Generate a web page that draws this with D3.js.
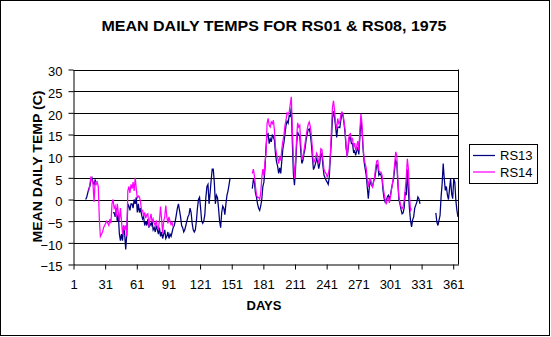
<!DOCTYPE html>
<html><head><meta charset="utf-8">
<script src="https://cdn.jsdelivr.net/npm/d3@7"></script>
<style>body{margin:0;background:#fff} svg{display:block}</style>
</head><body><svg id="c" width="551" height="337"></svg>
<script>
// ---- DATA ----
const chartTitle = "MEAN DAILY TEMPS FOR RS01 & RS08, 1975";
const yTitle = "MEAN DAILY TEMP (C)";
const xTitle = "DAYS";
const seriesNames = ["RS13", "RS14"];
const seriesColors = ["#000080", "#FF00FF"];
const nDays = 365;
const xTickLabels = [1, 31, 61, 91, 121, 151, 181, 211, 241, 271, 301, 331, 361];
const yTickValues = [-15, -10, -5, 0, 5, 10, 15, 20, 25, 30];

// RS13 segments (start day + daily values)
const rs13aStart = 12;
const rs13a = [0, 0.5, 1.5, 2.5, 3, 4.5, 5, 4, 3.5, 4.5, 4];
const rs13bStart = 38;
const rs13b = [
  -3, -3, -4, -2, -5, -3.5, -8, -9.5, -8, -9.5,
  -6, -8, -11.5, -8, -1, -1.5, -2.5, -1, -1, -2,
  0, -1, 0.5, -3, -1, -3, -2, -3.5, -4.5, -4,
  -6, -5, -6, -4.5, -6.5, -5.5, -6, -5, -7, -6.5,
  -7.5, -6, -7, -8, -6.5, -8.5, -7.5, -9, -8, -7,
  -9, -8.5, -7.5, -9, -8, -8.5, -7.5, -6.5, -6, -5,
  -3.5, -2, -1, -2.5, -4, -6, -6.5, -7.5, -7, -6,
  -5, -4, -3.5, -2, -3, -5.5, -7, -7.5, -7, -5,
  -2, 0, 0.5, -2, -5, -5.5, -5, -3.5, 0.5, 3,
  3.5, -1, 1.5, 4.5, 7, 7, 4, -1, 1, 0.5,
  -2, -5, -6.5, -3, -1.5, -2, -3.5, -1, 1, 2,
  3.5, 5];
const rs13cStart = 170;
const rs13c = [
  2.5, 4.5, 4, 1.5, 0.5, -1, -2, -2.5, -1.5, 0,
  3, 4, 7, 12, 15, 15.2, 12.9, 14, 13.3, 14.8,
  14.4, 13.7, 10.6, 8.7, 7.7, 6, 7.3, 6, 9, 11.7,
  13.1, 15.2, 17.1, 18.1, 17.6, 19.4, 19.2, 21.3, 12.9, 5.8,
  3.3, 7.1, 12.5, 15.6, 14.8, 14.8, 11, 8.3, 9, 10.6,
  11.7, 13.7, 15, 16.1, 16.3, 15.2, 12.9, 9.7, 6.9, 7.5,
  8.4, 9.4, 8.7, 7.1, 8.4, 10.7, 10.4, 7.7, 5.6, 5,
  4.4, 4, 3.5, 5.2, 9.7, 13.7, 18.7, 20.4, 18.8, 16.8,
  14.3, 16.7, 16.7, 16.6, 18.4, 19.7, 19.4, 17.5, 15.2, 11.7,
  10, 12.1, 14.3, 14.4, 12.9, 12.9, 11, 11.2, 10.2, 11.2,
  12.1, 10.4, 14.4, 18.4, 16, 11.7, 8.7, 7.1, 5.6, 2.9,
  0.2, 3, 4.4, 3.3, 3, 4.3, 4.7, 6.3, 8.1, 7.9,
  5.6, 6, 5.6, 4.8, 2, 0.2, -0.6, -0.3, 0.6, 1,
  0.2, 1, 2.5, 3.8, 4.8, 7.1, 9, 8.4, 3.7, 0,
  -1, -2.3, -3.3, -3.1, -1.9, 1.7, 1, 6.9, 2.1, -2.1,
  -4.8, -6.3, -4.7, -4, -2, -1.3, -0.6, 0.6, 0.2, -1];
const rs13dStart = 344;
const rs13d = [-3.1, -5.2, -6, -4.8, -3.7, 0.6, 3.7, 8.3, 4.8, 2.1, 3, 1, 0, 2.5, 4.8, 1.3, 0.2, 4.8, 4, -0.2, -2.5, -4];

// RS14 segments
const rs14aStart = 15;
const rs14a = [
  2, 3.5, 5.3, 4.5, 3.5, -0.5, 4, 3.5, 4, 3,
  -4.5, -8.5, -8, -7.5, -6.5, -6, -5.5, -5, -5.5, -6,
  -4.5, -5.5, -1, 0, -2, -1.5, -4, -1, -3, -5,
  -2, -5, -8, -6, -7, -6, -8.5, 2, 3, 1.5,
  3.5, 2.5, 4, 2, 5, 2.5, 0.2, 0.8, 0.6, -0.5,
  -2.5, -2.5, -3.8, -3, -4.3, -3.5, -3.3, -6.3, -4.5, -3.3,
  -5.2, -4.5, -5.5, -6, -4.8, -6.3, -6.7, -4.8, -1.6, -4.5,
  -7.8, -5, -4, -1.4, -4, -5.5, -4, -5, -5.8, -5.3,
  -6.3];
const rs14bStart = 170;
const rs14b = [
  6, 7, 5.5, 3, 1, 0.5, 0.5, 0, 1.5, 5,
  7, 5.5, 8.5, 10.5, 17.5, 18.7, 17.1, 16.7, 17.9, 17.5,
  18.3, 16, 12.1, 10.4, 9.7, 8.3, 9.7, 9, 11.7, 13.5,
  14.8, 17.1, 18.4, 20, 19.7, 20.2, 22, 23.7, 16, 9.7,
  4.8, 8.7, 14, 17.7, 16.7, 17.1, 12.9, 9.2, 9.8, 11.3,
  12.9, 14.6, 16.1, 17.3, 17.9, 16.9, 14.8, 11.7, 8.3, 9,
  9.7, 10.7, 10, 8.3, 9.4, 11.7, 11.5, 9.2, 6.9, 6.3,
  6, 5.2, 5.8, 7.1, 10.4, 16, 21.3, 22.8, 20.6, 17.5,
  16.3, 18.7, 17.5, 17.9, 19.7, 20.2, 19.8, 17.9, 16, 12.5,
  9.7, 12.9, 15, 15.2, 13.7, 14, 12.1, 13, 11.3, 12.3,
  13.5, 11.3, 16, 19.8, 17.5, 12.5, 9.4, 8.3, 7.3, 4.6,
  2.9, 4.7, 4.8, 3.5, 2.9, 4, 5.3, 7.5, 8.9, 9,
  6.7, 6.3, 6.3, 5.6, 3, 1.3, 0, -1.1, 0.2, 0.4,
  -0.8, 0.6, 2.3, 3.8, 5.6, 8.3, 11, 10.2, 4.8, 0.6,
  -0.6, -1.7, -2.1, -1.6, -0.2, 2.3, 5.2, 9.4, 7.1, 1,
  -2.5, -2.1];

const series = [
  {name: seriesNames[0], color: seriesColors[0], segs: [[rs13aStart, rs13a], [rs13bStart, rs13b], [rs13cStart, rs13c], [rs13dStart, rs13d]]},
  {name: seriesNames[1], color: seriesColors[1], segs: [[rs14aStart, rs14a], [rs14bStart, rs14b]]}
];

// ---- LAYOUT ----
const svg = d3.select("#c");
const L = 73.5, R = 458.5, T = 69.5, B = 264.5;
const tickFont = "'Liberation Sans', Arial, sans-serif";
const boldFont = "'Liberation Sans', Arial, sans-serif";

svg.append("rect").attr("x", 0.5).attr("y", 0.5).attr("width", 549).attr("height", 335)
  .attr("fill", "#fff").attr("stroke", "#000");

const xl = d3.scaleLinear().domain([0, nDays]).range([L, R]);   // day boundaries
const y = d3.scaleLinear().domain([-15, 30]).range([B, T]);
const xc = d => xl(d - 0.5); // category centre

// gridlines
svg.append("g").selectAll("line").data(yTickValues.filter(v => v > -15)).join("line")
  .attr("x1", L).attr("x2", R).attr("y1", d => Math.round(y(d)) + 0.5).attr("y2", d => Math.round(y(d)) + 0.5)
  .attr("stroke", "#000").attr("stroke-width", 1);
// right border
svg.append("line").attr("x1", R).attr("x2", R).attr("y1", T).attr("y2", B).attr("stroke", "#000");

// y axis
const yAxis = svg.append("g").attr("transform", `translate(${L},0)`)
  .call(d3.axisLeft(y).tickValues(yTickValues).tickSize(5).tickPadding(6).tickSizeOuter(0));
yAxis.select(".domain").attr("stroke", "#000");
yAxis.selectAll(".tick line").attr("stroke", "#000");
yAxis.selectAll(".tick text").attr("font-family", tickFont).attr("font-size", 13).attr("fill", "#000").attr("dy", "0.48em");

// x axis (ticks at category boundaries, labels at category centres)
const xAxis = svg.append("g").attr("transform", `translate(0,${B})`)
  .call(d3.axisBottom(xl).tickValues(xTickLabels.map(d => d - 1)).tickSize(5).tickPadding(10)
        .tickSizeOuter(0).tickFormat(d => d + 1));
xAxis.select(".domain").attr("stroke", "#000");
xAxis.selectAll(".tick line").attr("stroke", "#000");
xAxis.selectAll(".tick text").attr("font-family", tickFont).attr("font-size", 13).attr("fill", "#000")
  .attr("x", xl(0.5) - xl(0) - 0.5);

// series
const line = d3.line().x(d => xc(d[0])).y(d => y(d[1]));
series.forEach(s => {
  s.segs.forEach(([start, vals]) => {
    const pts = vals.map((v, i) => [start + i, v]);
    svg.append("path").datum(pts).attr("d", line)
      .attr("fill", "none").attr("stroke", s.color).attr("stroke-width", 1.25).attr("stroke-linejoin", "miter");
  });
});

// titles
svg.append("text").attr("x", 274).attr("y", 30.5).attr("text-anchor", "middle")
  .attr("font-family", boldFont).attr("font-weight", "bold").attr("font-size", 14)
  .attr("textLength", 345).attr("lengthAdjust", "spacingAndGlyphs").text(chartTitle);
svg.append("text").attr("transform", "translate(41.5,166.5) rotate(-90)").attr("text-anchor", "middle")
  .attr("font-family", boldFont).attr("font-weight", "bold").attr("font-size", 13)
  .attr("textLength", 152).attr("lengthAdjust", "spacingAndGlyphs").text(yTitle);
svg.append("text").attr("x", 264).attr("y", 309.5).attr("text-anchor", "middle")
  .attr("font-family", boldFont).attr("font-weight", "bold").attr("font-size", 13)
  .attr("textLength", 35).attr("lengthAdjust", "spacingAndGlyphs").text(xTitle);

// legend
const lg = svg.append("g");
lg.append("rect").attr("x", 469.5).attr("y", 144.5).attr("width", 68).attr("height", 39)
  .attr("fill", "#fff").attr("stroke", "#000");
series.forEach((s, i) => {
  const ly = 155.5 + i * 16.5;
  lg.append("line").attr("x1", 473).attr("x2", 495).attr("y1", ly).attr("y2", ly)
    .attr("stroke", s.color).attr("stroke-width", 1.25);
  lg.append("text").attr("x", 500).attr("y", ly + 4.6).attr("font-family", tickFont).attr("font-size", 13)
    .attr("fill", "#000").text(s.name);
});
</script></body></html>
